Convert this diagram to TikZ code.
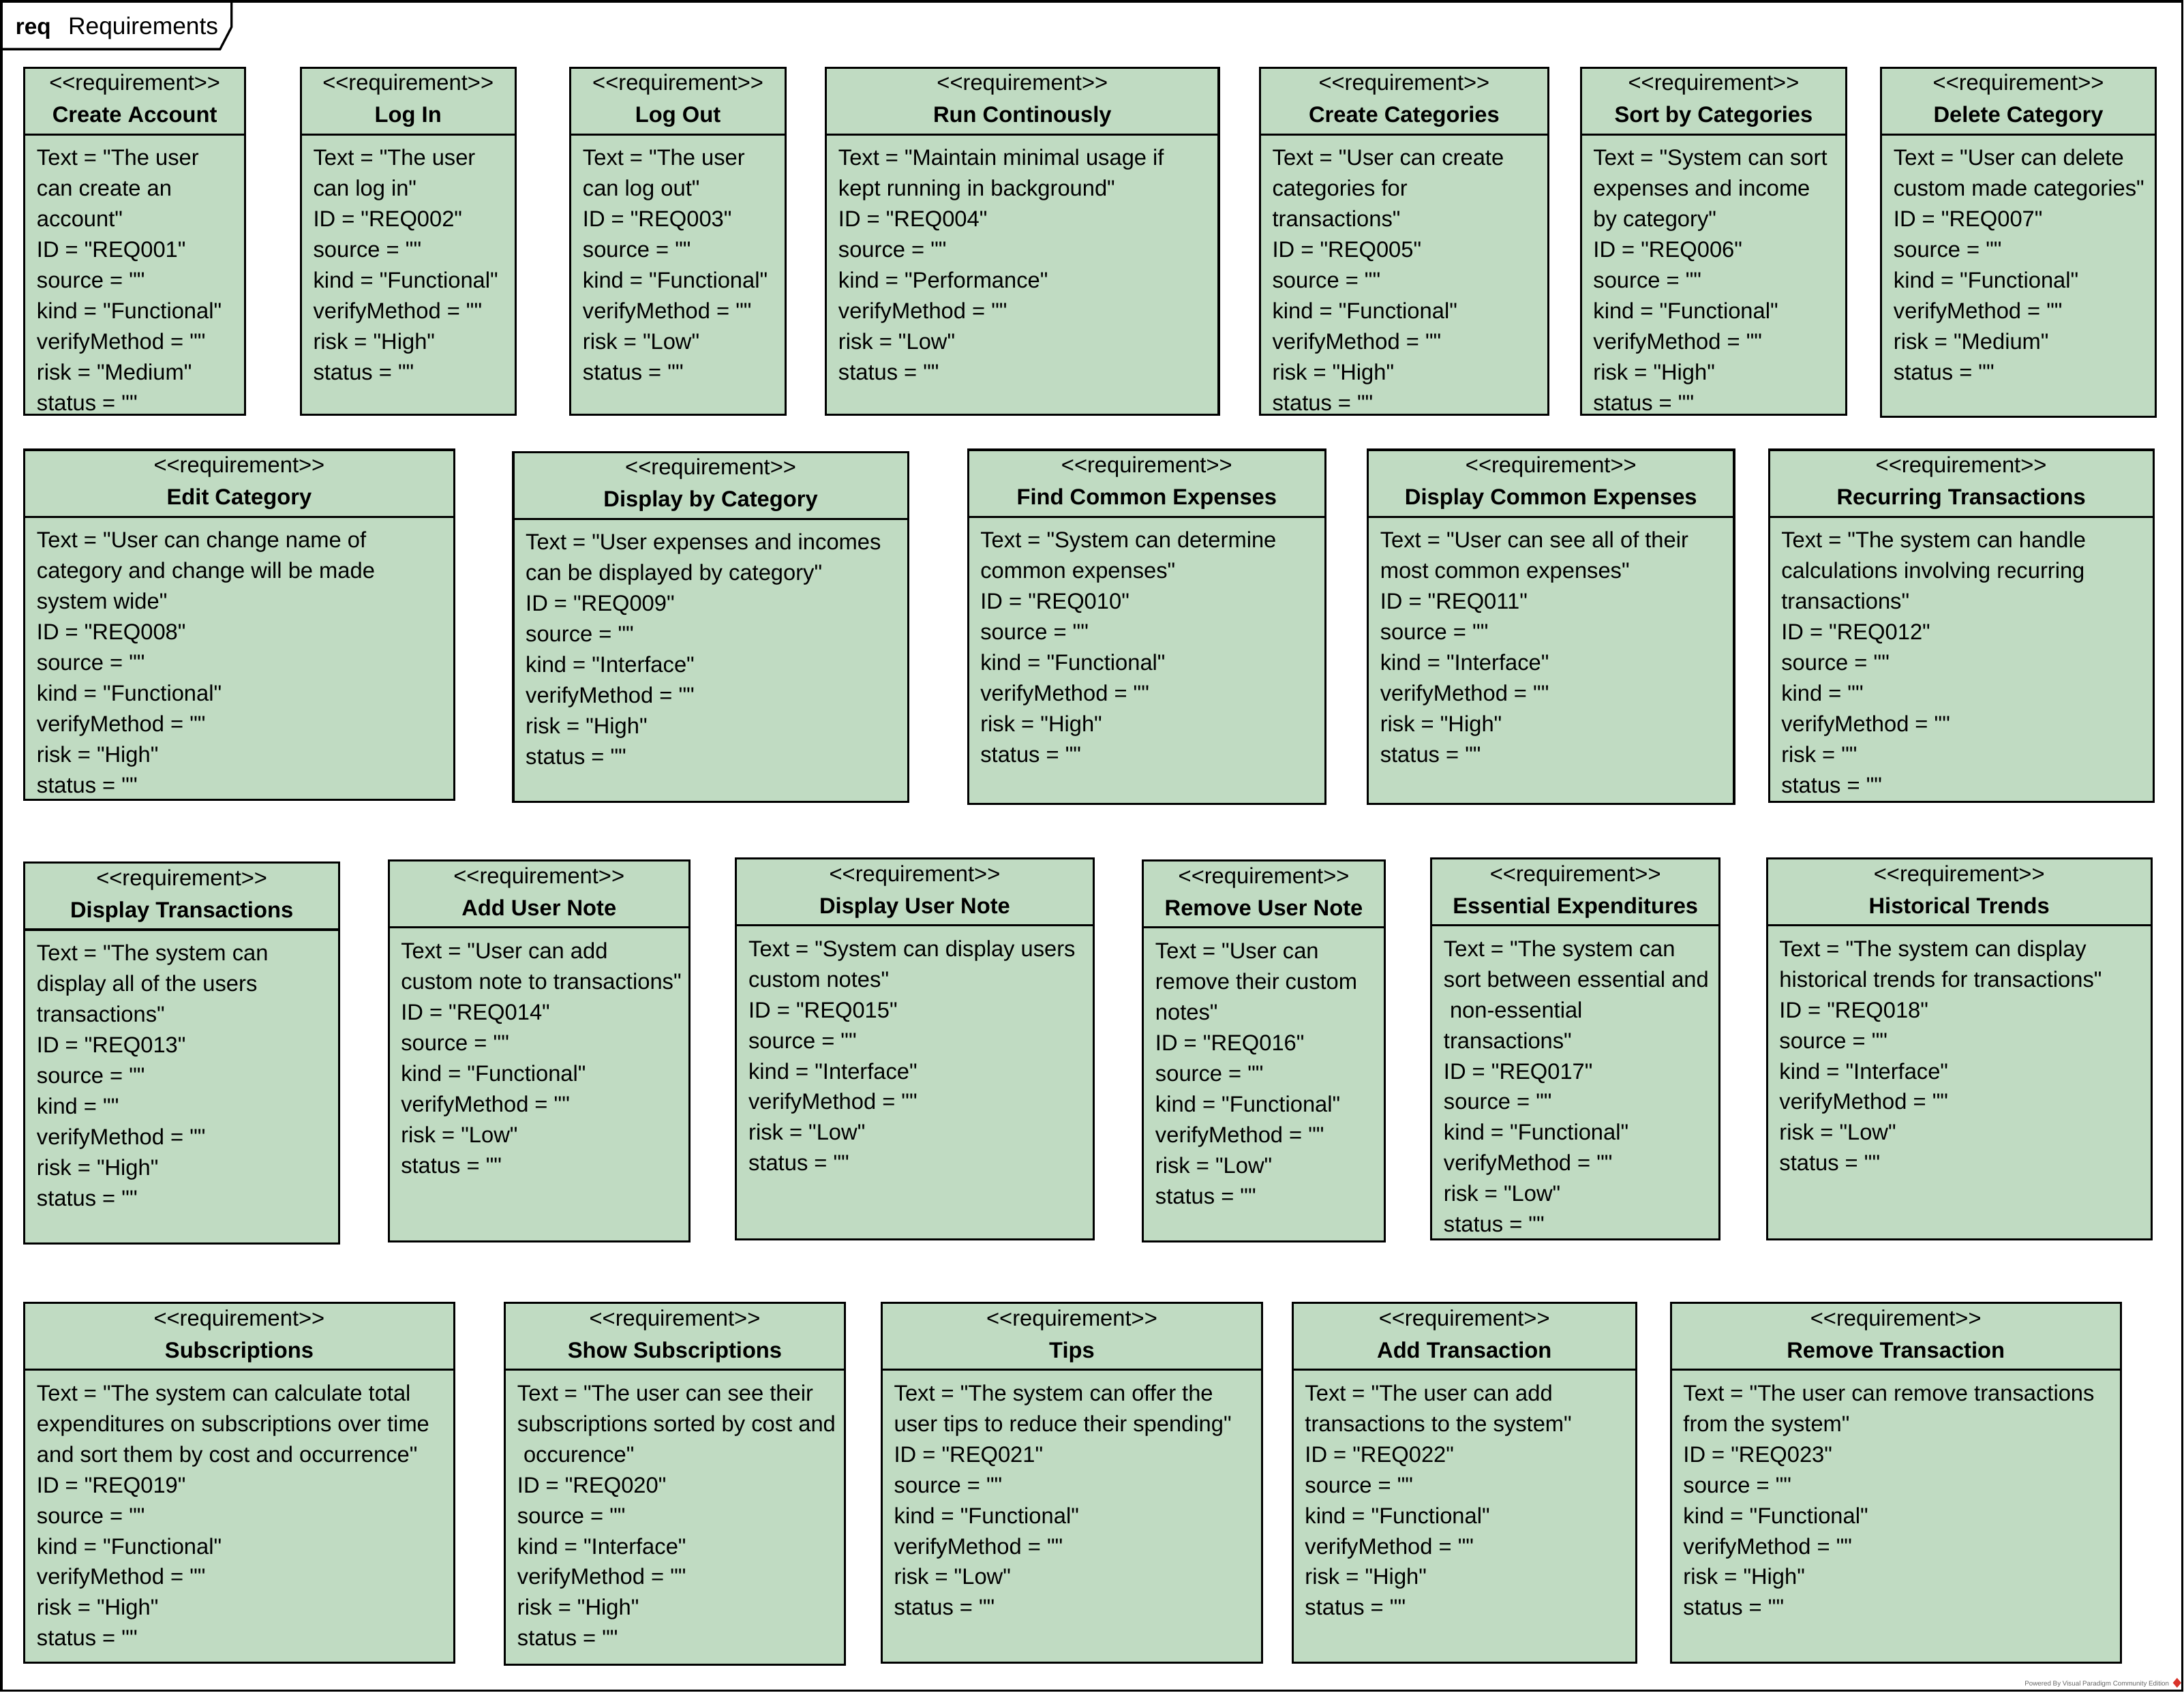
\documentclass[tikz,border=0pt]{standalone}
\usepackage{fontspec}
\setmainfont{Liberation Sans}[Ligatures=TeXOff]
\definecolor{reqgreen}{HTML}{C0DBC2}
\definecolor{vpgray}{HTML}{666666}
\definecolor{vpred}{HTML}{D9342B}
\tikzset{
  reqbox/.style={draw=black, line width=1.5pt, fill=reqgreen, inner sep=0pt, outer sep=0pt, anchor=north west},
  divline/.style={draw=black, line width=1.5pt},
  stereo/.style={anchor=base, inner sep=0pt, font=\fontsize{16}{19}\selectfont},
  titletext/.style={anchor=base, inner sep=0pt, font=\fontsize{16}{19}\selectfont\bfseries},
  bodytext/.style={anchor=base west, inner sep=0pt, font=\fontsize{16}{19}\selectfont},
  frameline/.style={draw=black, line width=1.6pt},
}
% #1 name, #2 x1, #3 y1, #4 x2, #5 y2, #6 title, #7 body lines
\newcommand\reqbox[7]{%
  \node[reqbox, minimum width={#4-#2}, minimum height={#5-#3}] (#1) at (#2,-#3) {};
  \draw[divline] ([yshift=-48pt]#1.north west) -- ([yshift=-48pt]#1.north east);
  \node[stereo] (#1s) at ([yshift=-16.5pt]#1.north) {<<requirement>>};
  \node[titletext] (#1t) at ([yshift=-39.5pt]#1.north) {#6};
  \foreach \ln [count=\k from 0] in {#7}
    \node[bodytext] (#1l\k) at ([xshift=8.7pt,yshift={-70.3pt-22pt*\k}]#1.north west) {\ln};
}
\begin{document}
\begin{tikzpicture}[x=1pt,y=1pt]
\useasboundingbox (0,0) rectangle (1568,-1215.6);
% outer frame and tab
\draw[frameline] (1,-1) rectangle (1566.6,-1214);
\draw[frameline] (1,-1) -- (166.3,-1) -- (166.3,-19.3) -- (158,-35.3) -- (1,-35.3);
\node[anchor=base west, inner sep=0pt, font=\fontsize{16.3}{19}\selectfont\bfseries] (tabreq) at (11,-24.5) {req};
\node[anchor=base west, inner sep=0pt, font=\fontsize{17.3}{20}\selectfont] (tabname) at (48.8,-24.5) {Requirements};

% Row 1
\reqbox{n1}{17.5}{48.5}{176}{298}{Create Account}{Text = "The user,can create an,account",ID = "REQ001",source = "",kind = "Functional",verifyMethod = "",risk = "Medium",status = ""}
\reqbox{n2}{216}{48.5}{370}{298}{Log In}{Text = "The user,can log in",ID = "REQ002",source = "",kind = "Functional",verifyMethod = "",risk = "High",status = ""}
\reqbox{n3}{409.5}{48.5}{564}{298}{Log Out}{Text = "The user,can log out",ID = "REQ003",source = "",kind = "Functional",verifyMethod = "",risk = "Low",status = ""}
\reqbox{n4}{593}{48.5}{875}{298}{Run Continously}{Text = "Maintain minimal usage if,kept running in background",ID = "REQ004",source = "",kind = "Performance",verifyMethod = "",risk = "Low",status = ""}
\reqbox{n5}{904.6}{48.5}{1111.6}{298}{Create Categories}{Text = "User can create,categories for,transactions",ID = "REQ005",source = "",kind = "Functional",verifyMethod = "",risk = "High",status = ""}
\reqbox{n6}{1135}{48.5}{1325.6}{298}{Sort by Categories}{Text = "System can sort,expenses and income,by category",ID = "REQ006",source = "",kind = "Functional",verifyMethod = "",risk = "High",status = ""}
\reqbox{n7}{1350.6}{48.5}{1547.6}{299.3}{Delete Category}{Text = "User can delete,custom made categories",ID = "REQ007",source = "",kind = "Functional",verifyMethod = "",risk = "Medium",status = ""}

% Row 2
\reqbox{n8}{17.5}{323}{326}{574.3}{Edit Category}{Text = "User can change name of,category and change will be made,system wide",ID = "REQ008",source = "",kind = "Functional",verifyMethod = "",risk = "High",status = ""}
\reqbox{n9}{368.5}{324.5}{652}{575.8}{Display by Category}{Text = "User expenses and incomes,can be displayed by category",ID = "REQ009",source = "",kind = "Interface",verifyMethod = "",risk = "High",status = ""}
\reqbox{n10}{695}{323}{951.6}{577.4}{Find Common Expenses}{Text = "System can determine,common expenses",ID = "REQ010",source = "",kind = "Functional",verifyMethod = "",risk = "High",status = ""}
\reqbox{n11}{982}{323}{1245}{577.4}{Display Common Expenses}{Text = "User can see all of their,most common expenses",ID = "REQ011",source = "",kind = "Interface",verifyMethod = "",risk = "High",status = ""}
\reqbox{n12}{1270}{323}{1546}{575.8}{Recurring Transactions}{Text = "The system can handle,calculations involving recurring,transactions",ID = "REQ012",source = "",kind = "",verifyMethod = "",risk = "",status = ""}

% Row 3
\reqbox{n13}{17.5}{619.5}{243.5}{892.9}{Display Transactions}{Text = "The system can,display all of the users,transactions",ID = "REQ013",source = "",kind = "",verifyMethod = "",risk = "High",status = ""}
\reqbox{n14}{279}{618}{495}{891.3}{Add User Note}{Text = "User can add,custom note to transactions",ID = "REQ014",source = "",kind = "Functional",verifyMethod = "",risk = "Low",status = ""}
\reqbox{n15}{528.5}{616.4}{785}{889.8}{Display User Note}{Text = "System can display users,custom notes",ID = "REQ015",source = "",kind = "Interface",verifyMethod = "",risk = "Low",status = ""}
\reqbox{n16}{820.6}{618}{994.1}{891.3}{Remove User Note}{Text = "User can,remove their custom,notes",ID = "REQ016",source = "",kind = "Functional",verifyMethod = "",risk = "Low",status = ""}
\reqbox{n17}{1027.6}{616.4}{1234.6}{889.8}{Essential Expenditures}{Text = "The system can,sort between essential and,{\ }non-essential,transactions",ID = "REQ017",source = "",kind = "Functional",verifyMethod = "",risk = "Low",status = ""}
\reqbox{n18}{1268.6}{616.4}{1544.6}{889.8}{Historical Trends}{Text = "The system can display,historical trends for transactions",ID = "REQ018",source = "",kind = "Interface",verifyMethod = "",risk = "Low",status = ""}

% Row 4
\reqbox{n19}{17.5}{935.5}{326}{1193.8}{Subscriptions}{Text = "The system can calculate total,expenditures on subscriptions over time,and sort them by cost and occurrence",ID = "REQ019",source = "",kind = "Functional",verifyMethod = "",risk = "High",status = ""}
\reqbox{n20}{362.5}{935.5}{606.5}{1195.3}{Show Subscriptions}{Text = "The user can see their,subscriptions sorted by cost and,{\ }occurence",ID = "REQ020",source = "",kind = "Interface",verifyMethod = "",risk = "High",status = ""}
\reqbox{n21}{633}{935.5}{906.1}{1193.8}{Tips}{Text = "The system can offer the,user tips to reduce their spending",ID = "REQ021",source = "",kind = "Functional",verifyMethod = "",risk = "Low",status = ""}
\reqbox{n22}{928}{935.5}{1174.6}{1193.8}{Add Transaction}{Text = "The user can add,transactions to the system",ID = "REQ022",source = "",kind = "Functional",verifyMethod = "",risk = "High",status = ""}
\reqbox{n23}{1199.6}{935.5}{1522.6}{1193.8}{Remove Transaction}{Text = "The user can remove transactions,from the system",ID = "REQ023",source = "",kind = "Functional",verifyMethod = "",risk = "High",status = ""}

% footer
\node[anchor=base east, inner sep=0pt, text=vpgray, font=\fontsize{4.8}{6}\selectfont] (powered) at (1557.5,-1210.3) {Powered By Visual Paradigm Community Edition};
\fill[vpred] (1563,-1204.8) -- (1566,-1208.3) -- (1563,-1211.8) -- (1560,-1208.3) -- cycle;
\end{tikzpicture}
\end{document}
